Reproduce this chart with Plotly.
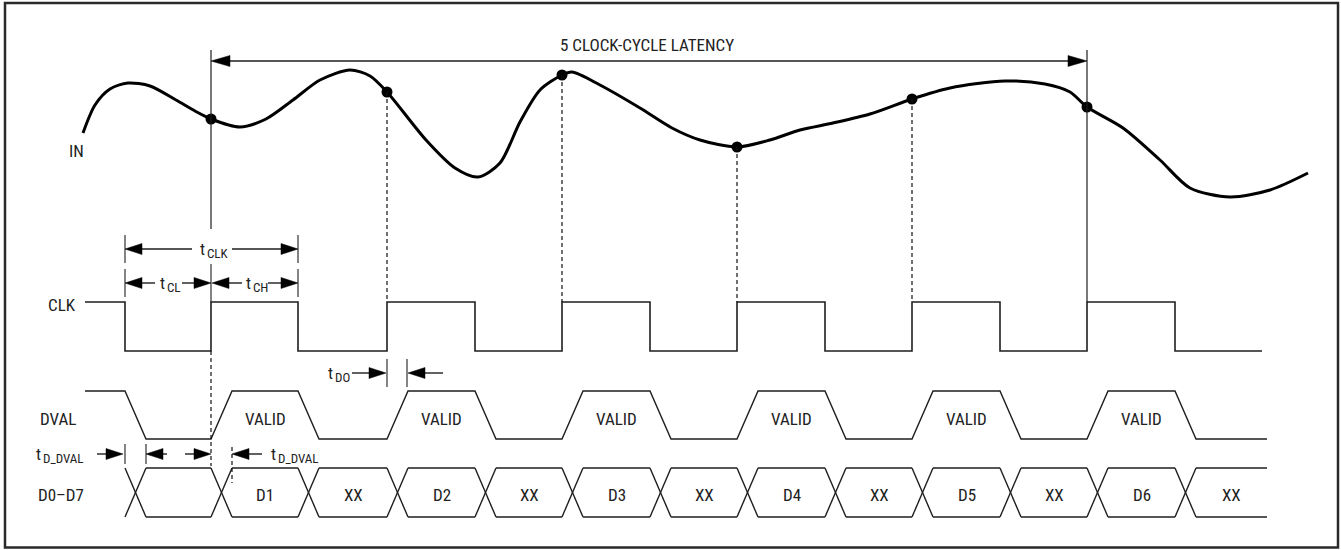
import plotly.graph_objects as go

# ---------------- data ----------------
rising_edges = [211, 387, 562, 737, 912, 1087]
falling_edges = [125, 298, 475, 650, 825, 1000, 1175]
trace_start = 85
clk_end = 1262
bus_end = 1267
slew = 21

clk_high, clk_low = 302, 351
dval_high, dval_low = 391, 439
bus_top, bus_bot = 468, 517

in_x = [83, 95, 110, 128, 150, 176, 195, 211, 240, 266, 293, 320, 350, 370, 387,
        426, 455, 478, 500, 520, 540, 562, 572, 600, 640, 672, 700, 737, 770, 800,
        833, 870, 912, 950, 1005, 1045, 1070, 1087, 1123, 1160, 1190, 1230, 1270, 1308]
in_y = [133, 105, 89, 83, 86, 100, 111, 119, 127, 119, 100, 80, 70, 76, 92,
        140, 168, 177, 163, 122, 90, 75, 72, 85, 108, 128, 140, 147, 140, 130,
        123, 114, 99, 88, 81, 84, 92, 107, 128, 160, 188, 197, 190, 173]
sample_y = [119, 92, 75, 147, 99, 107]

bus_labels = ["", "D1", "XX", "D2", "XX", "D3", "XX", "D4", "XX", "D5", "XX", "D6", "XX"]
signal_names = ["IN", "CLK", "DVAL", "D0–D7"]
latency_text = "5 CLOCK-CYCLE LATENCY"
timing_subs = ["CLK", "CL", "CH", "DO", "D_DVAL", "D_DVAL"]

INK = "#1e1e1e"
FONT = "Roboto Condensed, DejaVu Sans Condensed, sans-serif"

fig = go.Figure()

def add_line(xs, ys, width=1.5, dash=None, color=INK):
    fig.add_trace(go.Scatter(x=xs, y=ys, mode="lines", hoverinfo="skip",
                             line=dict(color=color, width=width, dash=dash)))

# ---------------- IN curve ----------------
fig.add_trace(go.Scatter(x=in_x, y=in_y, mode="lines", hoverinfo="skip",
                         line=dict(color="black", width=3, shape="spline", smoothing=0.8)))
fig.add_trace(go.Scatter(x=rising_edges, y=sample_y, mode="markers", hoverinfo="skip",
                         marker=dict(color="black", size=11)))

# ---------------- CLK ----------------
edges = sorted([(e, "f") for e in falling_edges] + [(e, "r") for e in rising_edges])
cx, cy = [trace_start], [clk_high]
for e, k in edges:
    a, b = (clk_high, clk_low) if k == "f" else (clk_low, clk_high)
    cx += [e, e]
    cy += [a, b]
cx.append(clk_end)
cy.append(cy[-1])
add_line(cx, cy, 1.6)

# ---------------- DVAL ----------------
dx, dy = [trace_start], [dval_high]
for e, k in edges:
    a, b = (dval_high, dval_low) if k == "f" else (dval_low, dval_high)
    dx += [e, e + slew]
    dy += [a, b]
dx.append(bus_end)
dy.append(dy[-1])
add_line(dx, dy, 1.4)

# ---------------- data bus ----------------
bx, by = [], []
all_edges = [e for e, _ in edges]
for i, e in enumerate(all_edges):
    bx += [e, e + slew, None, e, e + slew, None]
    by += [bus_top, bus_bot, None, bus_bot, bus_top, None]
    nxt = all_edges[i + 1] if i + 1 < len(all_edges) else bus_end
    bx += [e + slew, nxt, None, e + slew, nxt, None]
    by += [bus_top, bus_top, None, bus_bot, bus_bot, None]
add_line(bx, by, 1.4)

# ---------------- vertical reference lines ----------------
latency_top = 50
tclk_y, tcl_y, tdo_y, tdd_y, lat_y = 249, 283, 373, 454, 61
add_line([rising_edges[0], rising_edges[0], None, rising_edges[-1], rising_edges[-1]],
         [latency_top, tclk_y - 20, None, latency_top, clk_high], 1.2)
vx, vy = [], []
for x, y in zip(rising_edges[1:-1], sample_y[1:-1]):
    vx += [x, x, None]
    vy += [y, clk_high, None]
vx += [rising_edges[0], rising_edges[0], None, rising_edges[0] + slew, rising_edges[0] + slew]
vy += [clk_low, bus_top - 2, None, tdd_y - 7, bus_top + 15]
add_line(vx, vy, 1.2, dash="4px,3px", color="#111")

# ---------------- dimension ticks ----------------
tk_x, tk_y = [], []
def tick(x, y, h):
    tk_x.extend([x, x, None])
    tk_y.extend([y - h, y + h, None])
tick(falling_edges[0], tclk_y, 14)
tick(falling_edges[1], tclk_y, 14)
tick(falling_edges[0], tcl_y, 14)
tick(rising_edges[0], tcl_y, 19)
tick(falling_edges[1], tcl_y, 14)
tick(rising_edges[1], tdo_y, 14)
tick(rising_edges[1] + slew - 1, tdo_y, 14)
tick(falling_edges[0], tdd_y, 10)
tick(falling_edges[0] + slew, tdd_y, 10)
add_line(tk_x, tk_y, 1.1)

# ---------------- arrows (tip, tail, y) ----------------
arrows = [
    (rising_edges[0], 640, lat_y), (rising_edges[-1], 640, lat_y),
    (falling_edges[0], 192, tclk_y), (falling_edges[1], 232, tclk_y),
    (falling_edges[0], 155, tcl_y), (rising_edges[0], 182, tcl_y),
    (rising_edges[0] + 1, 242, tcl_y), (falling_edges[1], 268, tcl_y),
    (rising_edges[1] - 1, 352, tdo_y), (rising_edges[1] + slew, 443, tdo_y),
    (falling_edges[0] - 2, 97, tdd_y), (falling_edges[0] + slew, 167, tdd_y),
    (rising_edges[0], 185, tdd_y), (rising_edges[0] + slew, 262, tdd_y),
]
ax_, ay_, hx, hy = [], [], [], []
for tip, tail, y in arrows:
    d = 1 if tip > tail else -1
    L = 19 if abs(tip - tail) > 200 else 17
    h = 5.5
    ax_ += [tail, tip - d * 4, None]
    ay_ += [y, y, None]
    hx += [tip, tip - d * L, tip - d * L, tip, None]
    hy += [y, y - h, y + h, y, None]
add_line(ax_, ay_, 1.4)
fig.add_trace(go.Scatter(x=hx, y=hy, mode="lines", fill="toself", fillcolor="black",
                         hoverinfo="skip", line=dict(color="black", width=0.5)))

# ---------------- text ----------------
def txt(x, y, s, anchor="center", size=17, bg=None):
    fig.add_annotation(x=x, y=y, text=s, showarrow=False, xanchor=anchor, yanchor="middle",
                       font=dict(family=FONT, size=size, color="#222"),
                       bgcolor=bg, borderpad=0)

txt(647, 45, latency_text)
txt(85, 151, signal_names[0], "right")
txt(77, 305, signal_names[1], "right")
txt(77, 419, signal_names[2], "right")
txt(85, 495, signal_names[3], "right")

for r, f in zip(rising_edges, falling_edges[1:]):
    txt((r + slew + f) / 2, 419, "VALID")
for i, lab in enumerate(bus_labels):
    if lab:
        a = all_edges[i] + slew
        b = all_edges[i + 1] if i + 1 < len(all_edges) else bus_end
        txt((a + b) / 2, 495, lab)

# timing labels: "t" + subscript (x where the "t" ends, row y)
t_label_pos = [(205.5, tclk_y), (165.5, tcl_y), (251.5, tcl_y), (333.5, tdo_y),
               (41.5, tdd_y), (276.5, tdd_y)]
for (xt, yt), sub in zip(t_label_pos, timing_subs):
    txt(xt + 0.5, yt + 4.5, sub, "left", 13, bg="white" if sub == "CLK" else None)
    txt(xt, yt - 0.5, "t", "right", 17, bg="white" if sub == "CLK" else None)

fig.add_shape(type="rect", x0=5, y0=3, x1=1338, y1=547.5,
              line=dict(color="#2a2a2a", width=2.5), layer="above")

fig.update_layout(
    width=1341, height=550, margin=dict(l=0, r=0, t=0, b=0),
    paper_bgcolor="white", plot_bgcolor="white", showlegend=False,
    xaxis=dict(range=[0, 1341], visible=False, fixedrange=True),
    yaxis=dict(range=[550, 0], visible=False, fixedrange=True),
)
fig.write_html("out.html", config={"displayModeBar": False},
               post_script="document.body.style.margin='0';document.body.style.overflow='hidden';")
